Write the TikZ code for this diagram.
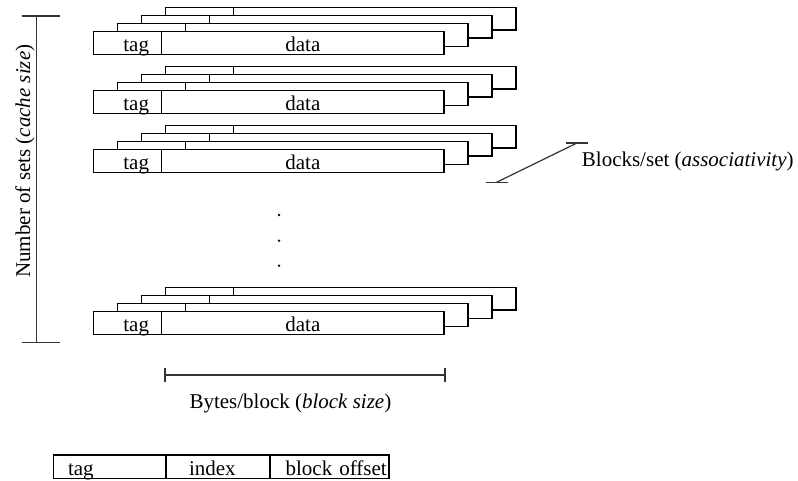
\documentclass[tikz,border=0pt]{standalone}
\usepackage{fontspec}
\setmainfont{Liberation Serif}
\usepackage{tikz}
\usetikzlibrary{positioning,calc}
\tikzstyle{blk}=[draw, fill=white, line width=1.2pt, inner sep=0pt, outer sep=0pt,% one way of a set
minimum height=22.6pt, text height=17.4pt, text depth=0pt]
\tikzstyle{tagblk}=[blk, minimum width=68.4pt, anchor=north west,
inner xsep=12.7pt, text width=43pt, align=right]
\tikzstyle{datablk}=[blk, minimum width=282.3pt]
\tikzstyle{field}=[draw, line width=1.2pt, outer sep=0pt, inner ysep=0pt,% address fields
minimum height=23.5pt, text height=16.5pt, text depth=0pt]
\tikzstyle{dim}=[line width=1.2pt, draw=black!80]
\tikzstyle{vdot}=[circle, fill=black, inner sep=0pt, minimum size=2.6pt]
\tikzstyle{lbl}=[inner sep=0pt]

\begin{document}
\begin{tikzpicture}[x=1pt, y=-1pt, font=\fontsize{21}{25}\selectfont]
\useasboundingbox (0,0) rectangle (798,481);
% the sets, back ways first (only the front way shows its text)
\foreach \s/\y in {1/31.7, 2/90.7, 3/149.7, 4/311.7} {
  \foreach \w in {3,2,1} {
    \node[tagblk] (tag\s\w) at ({93.3+24*\w},{\y-8.1*\w}) {};
    \node[datablk, right=0pt of tag\s\w] (data\s\w) {};
  }
  \node[tagblk] (tag\s0) at (93.3,\y) {tag};
  \node[datablk, right=0pt of tag\s0] (data\s0) {data};
}
\foreach \i/\y in {1/215, 2/240.7, 3/265.7}
  \node[vdot] (dot\i) at (279,\y) {};

% number of sets
\coordinate (settop) at (36.7,16);
\coordinate (setbot) at (36.7,342.7);
\draw[dim] (settop) -- (setbot);
\draw[dim] ($(settop)+(-15,0)$) -- ($(settop)+(23.3,0)$);
\draw[dim] ($(setbot)+(-15,0)$) -- ($(setbot)+(23.3,0)$);
\node[lbl, rotate=90, anchor=base west] (setslbl) at (30,278) {Number of sets (\textit{cache size})};

% associativity
\coordinate (asbot) at (496.5,182.3);
\coordinate (astop) at (577,143);
\draw[dim] (asbot) -- (astop);
\draw[dim] ($(asbot)+(-11,0)$) -- ($(asbot)+(11.5,0)$);
\draw[dim] ($(astop)+(-11,0)$) -- ($(astop)+(10.7,0)$);
\node[lbl, anchor=base west] (assoclbl) at (581.7,166.7) {Blocks/set (\textit{associativity})};

% block size
\coordinate (bsl) at (165,375);
\coordinate (bsr) at (445,375);
\draw[dim] (bsl) -- (bsr);
\draw[dim] ($(bsl)+(0,-6.8)$) -- ($(bsl)+(0,6.8)$);
\draw[dim] ($(bsr)+(0,-6.8)$) -- ($(bsr)+(0,6.8)$);
\node[lbl, anchor=base west] (bslbl) at (189.3,408.3) {Bytes/block (\textit{block size})};

% address
\node[field, anchor=north west, minimum width=112.7pt, inner xsep=14.7pt, text width=83.3pt, align=left] (atag) at (53.3,455) {tag};
\node[field, right=0pt of atag, minimum width=104pt, inner xsep=23pt, text width=58pt, align=left] (aidx) {index};
\node[field, right=0pt of aidx, minimum width=119pt, inner xsep=2.3pt, text width=114.4pt, align=right] (aoff) {block offset};
\end{tikzpicture}
\end{document}
